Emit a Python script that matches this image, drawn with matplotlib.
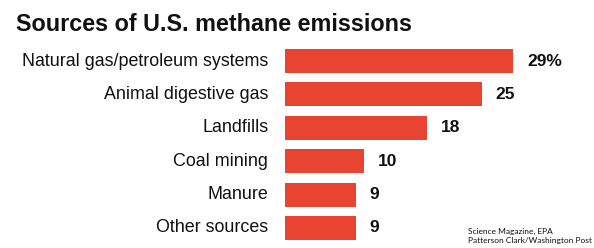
import matplotlib
matplotlib.use("Agg")
import matplotlib.pyplot as plt

# data
sources = ["Natural gas/petroleum systems", "Animal digestive gas", "Landfills",
           "Coal mining", "Manure", "Other sources"]
shares = [29, 25, 18, 10, 9, 9]
value_labels = ["29%", "25", "18", "10", "9", "9"]

W, H = 594, 248
fig = plt.figure(figsize=(W / 100, H / 100), dpi=100)

# axes placed in pixel terms: bars from x=285, 29 units -> ~513 px
left, right = 285, 513
top, bottom = 44.3, 244.7
ax = fig.add_axes([left / W, 1 - bottom / H, (right - left) / W, (bottom - top) / H])

ypos = list(range(len(sources)))
ax.barh(ypos, shares, height=0.72, color="#e84431", edgecolor="none")
ax.set_xlim(0, 29)
ax.set_ylim(len(sources) - 0.5, -0.5)

ax.set_yticks(ypos)
ax.set_yticklabels(sources, fontsize=12.9, family="Liberation Sans", color="#111111",
                   va="center")
ax.tick_params(axis="y", length=0, pad=12)
ax.set_xticks([])
for s in ax.spines.values():
    s.set_visible(False)

for y, v, lab in zip(ypos, shares, value_labels):
    ax.annotate(lab, (v, y), xytext=(10, 0), textcoords="offset points",
                ha="left", va="center", fontsize=12.5, fontweight="bold",
                family="Liberation Sans", color="#111111")

fig.text(16 / W, 1 - 31 / H, "Sources of U.S. methane emissions", fontsize=16.8,
         fontweight="bold", family="Liberation Sans", color="#111111",
         ha="left", va="baseline")

fig.text(468 / W, 1 - 234 / H, "Science Magazine, EPA", fontsize=6,
         family="Lato", color="#111111", ha="left", va="baseline")
fig.text(468 / W, 1 - 243 / H, "Patterson Clark/Washington Post", fontsize=6,
         family="Lato", color="#111111", ha="left", va="baseline")

fig.savefig("out.png", dpi=100, facecolor="white")
